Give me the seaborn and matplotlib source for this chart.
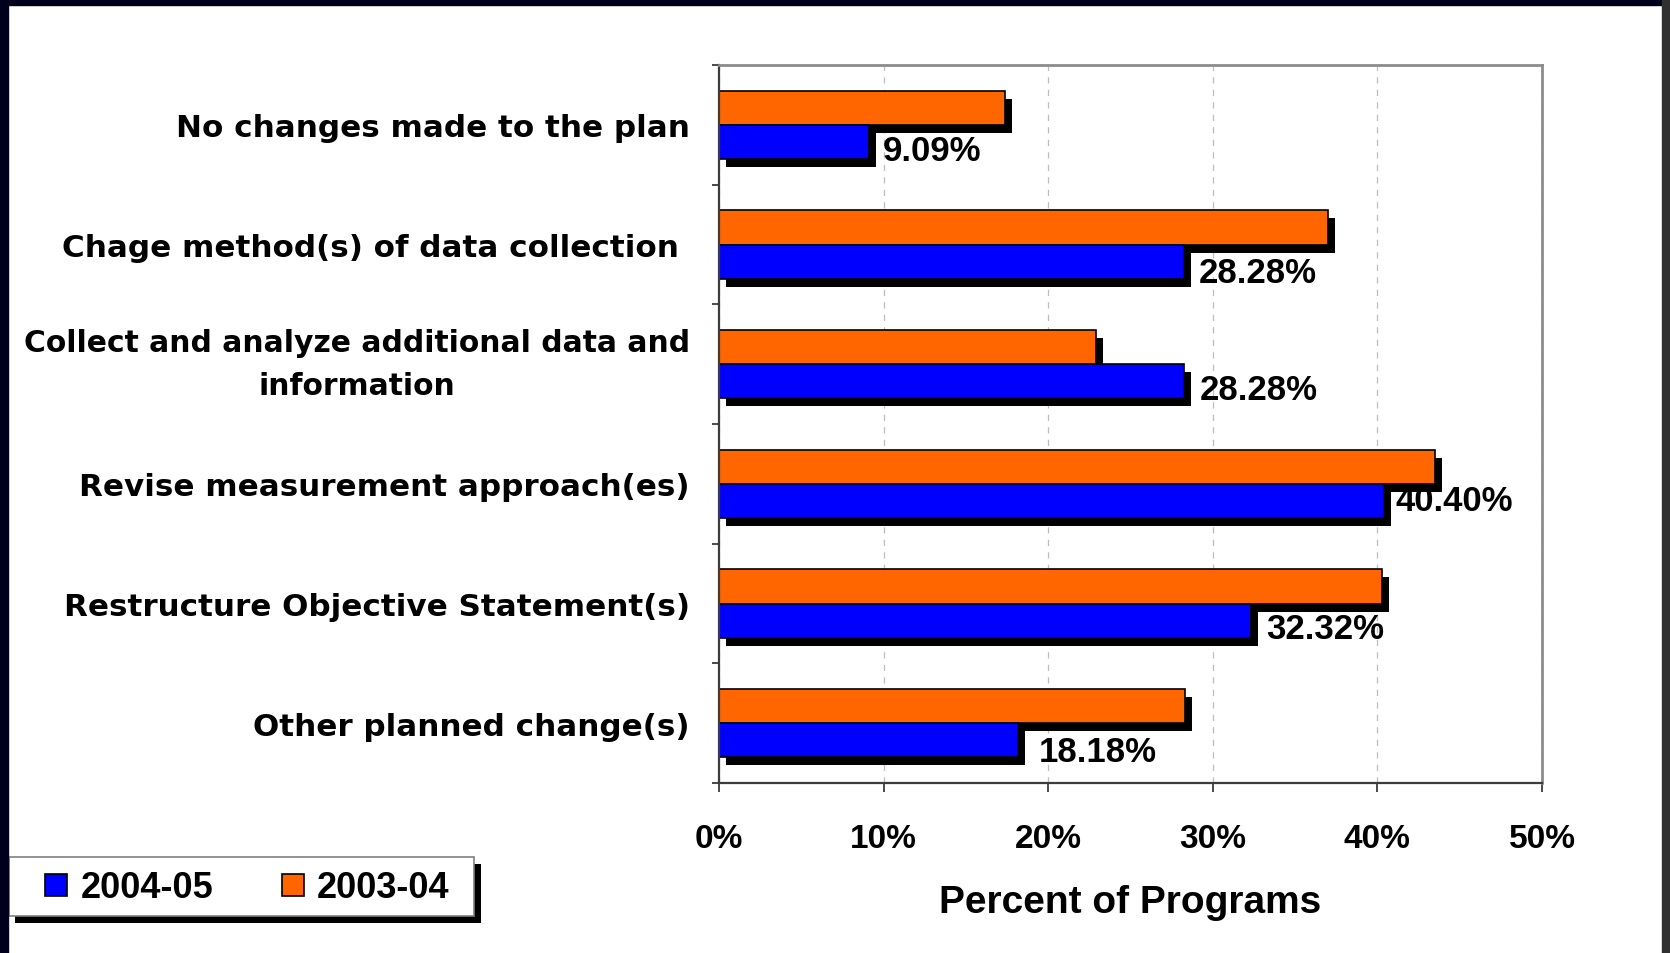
import matplotlib
matplotlib.use("Agg")
import matplotlib.pyplot as plt
import matplotlib.patheffects as pe
from matplotlib.patches import Rectangle
from matplotlib.lines import Line2D
import seaborn as sns
import pandas as pd

# data
categories = [
    "No changes made to the plan",
    "Chage method(s) of data collection ",
    "Collect and analyze additional data and\ninformation",
    "Revise measurement approach(es)",
    "Restructure Objective Statement(s)",
    "Other planned change(s)",
]
pct_2003_04 = [17.4, 37.0, 22.9, 43.5, 40.3, 28.3]
pct_2004_05 = [9.09, 28.28, 28.28, 40.40, 32.32, 18.18]
years = ["2003-04", "2004-05"]
x_ticks = [0, 10, 20, 30, 40, 50]

colors = {"2003-04": "#FF6600", "2004-05": "#0000FF"}
# label nudges (points) for the value labels, as placed in the original
label_nudge = [(10, -6.5), (10, -8), (11, -6), (8, 0), (11, -6), (15, -8)]

df = pd.DataFrame({
    "category": categories * 2,
    "year": [years[0]] * len(categories) + [years[1]] * len(categories),
    "pct": pct_2003_04 + pct_2004_05,
})

sns.set_theme(style="white")
plt.rcParams["font.family"] = ["Liberation Sans", "DejaVu Sans"]
plt.rcParams["font.weight"] = "bold"
for key in ["text.color", "axes.labelcolor", "xtick.labelcolor", "ytick.labelcolor"]:
    plt.rcParams[key] = "black"

W, H = 1670, 954
fig = plt.figure(figsize=(W / 100, H / 100), dpi=100, facecolor="white")
ax = fig.add_axes([719 / W, 1 - 784 / H, (1542 - 719) / W, (784 - 66) / H])

sns.barplot(data=df, y="category", x="pct", hue="year", hue_order=years,
            order=categories, palette=colors, saturation=1, orient="h", width=0.57,
            edgecolor="black", linewidth=1.2, legend=False, ax=ax)

for p in ax.patches:
    p.set_path_effects([pe.SimplePatchShadow(offset=(5, -5.8), shadow_rgbFace="black", alpha=1.0),
                        pe.Normal()])

labels = ax.bar_label(ax.containers[1], labels=[f"{v:.2f}%" for v in pct_2004_05],
                      fontsize=25, fontweight="bold", color="black")
for t, nudge in zip(labels, label_nudge):
    t.xyann = nudge

ax.set_xlim(0, 50)
ax.set_ylim(5.5, -0.5)
ax.set_xticks(x_ticks)
ax.set_xticklabels([f"{v}%" for v in x_ticks])
ax.set_yticks(range(len(categories)))
ax.set_yticklabels(categories)
ax.set_yticks([i - 0.5 for i in range(len(categories) + 1)], minor=True)

ax.tick_params(axis="x", which="major", length=6.5, width=1.3, direction="out",
               color="#3C3C3C", pad=22, labelsize=24, bottom=True)
ax.tick_params(axis="y", which="major", length=0, pad=21, left=True)
ax.tick_params(axis="y", which="minor", length=5, width=1.3, direction="out",
               color="#3C3C3C", left=True)
for lab in ax.get_yticklabels():
    lab.set_fontfamily("DejaVu Sans")
    lab.set_fontsize(22.3)
    lab.set_fontweight("bold")
    if "\n" in lab.get_text():
        # the two-line label is a bit smaller so it fits the slide
        lab.set_fontsize(21.4)
        lab.set_multialignment("center")
        lab.set_linespacing(1.6)
        lab.set_verticalalignment("center")
for lab in ax.get_xticklabels():
    lab.set_fontweight("bold")

ax.xaxis.grid(True, linestyle=(0, (5, 5)), color="#BDBDBD", linewidth=0.9)
ax.set_axisbelow(True)
for side in ["top", "right"]:
    ax.spines[side].set_color("#8C8C8C")
    ax.spines[side].set_linewidth(2)
for side in ["left", "bottom"]:
    ax.spines[side].set_color("#3C3C3C")
    ax.spines[side].set_linewidth(1.6)

ax.set_ylabel("")
ax.set_xlabel("Percent of Programs", fontsize=28, fontweight="bold", labelpad=22)

# legend box with drop shadow
frame = Rectangle((8.5 / W, 1 - 917 / H), (474 - 8.5) / W, 59 / H, transform=fig.transFigure,
                  facecolor="white", edgecolor="#808080", linewidth=1.2, zorder=1)
frame.set_path_effects([pe.SimplePatchShadow(offset=(5, -5), shadow_rgbFace="black", alpha=1.0),
                        pe.Normal()])
fig.add_artist(frame)

handles = [Line2D([], [], linestyle="none", marker="s", markersize=16,
                  markerfacecolor=colors[y], markeredgecolor="black", markeredgewidth=1.2)
           for y in ["2004-05", "2003-04"]]
leg = fig.legend(handles, ["2004-05", "2003-04"], ncol=2, frameon=False,
                 loc="center left", bbox_to_anchor=(44 / W, 1 - 889 / H),
                 borderpad=0, borderaxespad=0,
                 handlelength=0.68, handletextpad=0.34, columnspacing=1.85,
                 prop={"size": 26, "weight": "bold"})
leg.set_zorder(3)

# dark slide border
fig.add_artist(Rectangle((0, 0), 8 / W, 1, transform=fig.transFigure, color="#00001C", zorder=5))
fig.add_artist(Rectangle((0, 1 - 6 / H), 1, 6 / H, transform=fig.transFigure, color="#00001C", zorder=5))
fig.add_artist(Rectangle((1662 / W, 0), 8 / W, 1, transform=fig.transFigure, color="#303030", zorder=5))

fig.savefig("out.png", dpi=100, facecolor="white")
